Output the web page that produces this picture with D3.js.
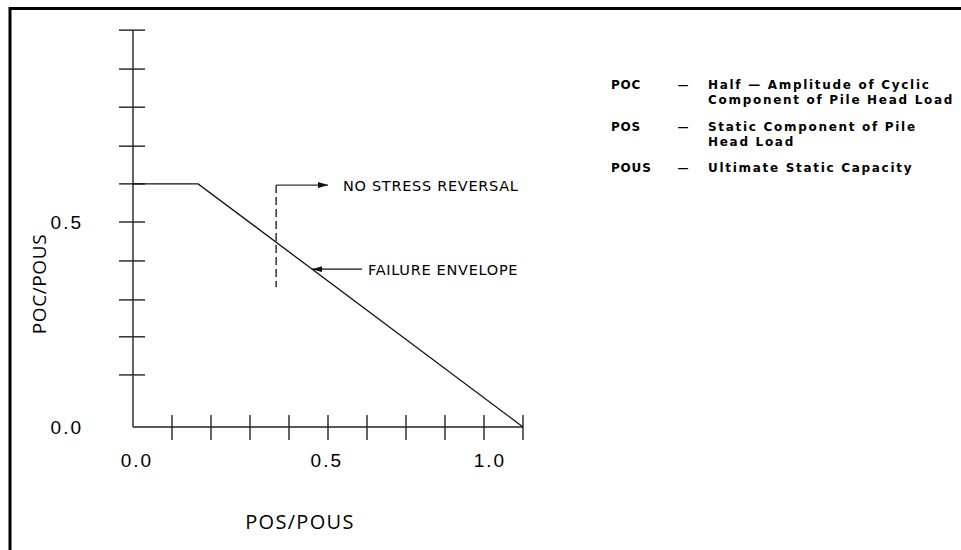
<!DOCTYPE html>
<html>
<head>
<meta charset="utf-8">
<script src="https://cdn.jsdelivr.net/npm/d3@7"></script>
<style>
  body { margin: 0; background: #fff; }
  svg { display: block; }
</style>
</head>
<body>
<svg id="chart" width="961" height="550"></svg>
<script>
// failure envelope (POS/POUS vs POC/POUS)
const posPous = [0, 0.167, 1.0]
const pocPous = [0.593, 0.593, 0]

// axis ticks as drawn on the scanned figure
const xTicks = [0.1, 0.2, 0.3, 0.4, 0.5, 0.6, 0.7, 0.8, 0.9, 1.0]
const yTicks = [0.127, 0.22, 0.31, 0.405, 0.5, 0.593, 0.685, 0.78, 0.873, 0.968]
const xTickLabels = ["0.0", "0.5", "1.0"]
const xTickLabelAt = [0.01, 0.497, 0.915]
const yTickLabels = ["0.0", "0.5"]
const yTickLabelAt = [0.0, 0.5]
const yAxisTop = 0.968

// annotations
const noReversalX = 0.367
const noReversalY = [0.59, 0.341]
const noReversalArrowTo = 0.5
const failureArrow = { x: 0.459, y: 0.385, from: 0.587 }

const legendKeys = ["POC", "POS", "POUS"]
const legendText = [
    ["Half \u2014 Amplitude of Cyclic", "Component of Pile Head Load"],
    ["Static Component of Pile", "Head Load"],
    ["Ultimate Static Capacity"]
]

const svg = d3.select("#chart")

// frame (only top and left edge show in the scan)
svg.append("path")
    .attr("d", "M10,550 L10,8.5 L961,8.5")
    .attr("fill", "none")
    .attr("stroke", "#000")
    .attr("stroke-width", 3)

const x = d3.scaleLinear().domain([0, 1]).range([133, 523])
const y = d3.scaleLinear().domain([0, 0.5]).range([427, 222])

const axisColor = "#222"

// y axis line + horizontal ticks
svg.append("line")
    .attr("x1", x(0)).attr("x2", x(0))
    .attr("y1", y(0)).attr("y2", y(yAxisTop))
    .attr("stroke", axisColor)
    .attr("stroke-width", 1.4)

svg.selectAll(".ytick")
    .data(yTicks)
    .enter()
    .append("line")
    .attr("class", "ytick")
    .attr("x1", x(0) - 14).attr("x2", x(0) + 12)
    .attr("y1", d => y(d)).attr("y2", d => y(d))
    .attr("stroke", axisColor)
    .attr("stroke-width", 1.4)

// x axis line + vertical ticks
svg.append("line")
    .attr("x1", x(0)).attr("x2", x(1))
    .attr("y1", y(0)).attr("y2", y(0))
    .attr("stroke", axisColor)
    .attr("stroke-width", 1.4)

svg.selectAll(".xtick")
    .data(xTicks)
    .enter()
    .append("line")
    .attr("class", "xtick")
    .attr("x1", d => x(d)).attr("x2", d => x(d))
    .attr("y1", y(0) - 12).attr("y2", y(0) + 13)
    .attr("stroke", axisColor)
    .attr("stroke-width", 1.4)

// tick labels
svg.selectAll(".xlab")
    .data(xTickLabels)
    .enter()
    .append("text")
    .attr("class", "xlab")
    .attr("x", (d, i) => x(xTickLabelAt[i]))
    .attr("y", y(0) + 40)
    .attr("text-anchor", "middle")
    .style("font-family", "'Liberation Sans', Arial, sans-serif")
    .style("font-size", "19px")
    .style("letter-spacing", "2px")
    .text(d => d)

svg.selectAll(".ylab")
    .data(yTickLabels)
    .enter()
    .append("text")
    .attr("class", "ylab")
    .attr("x", 83)
    .attr("y", (d, i) => y(yTickLabelAt[i]) + 7)
    .attr("text-anchor", "end")
    .style("font-family", "'Liberation Sans', Arial, sans-serif")
    .style("font-size", "19px")
    .style("letter-spacing", "2px")
    .text(d => d)

// axis titles
svg.append("text")
    .attr("transform", "translate(46,284) rotate(-90)")
    .attr("text-anchor", "middle")
    .style("font-family", "'Open Sans', 'Liberation Sans', sans-serif")
    .style("font-size", "19px")
    .style("letter-spacing", "0.6px")
    .text("POC/POUS")

svg.append("text")
    .attr("x", 300)
    .attr("y", 529)
    .attr("text-anchor", "middle")
    .style("font-family", "'Open Sans', 'Liberation Sans', sans-serif")
    .style("font-size", "20px")
    .style("letter-spacing", "1.3px")
    .text("POS/POUS")

// failure envelope
const line = d3.line()
    .x(d => x(d[0]))
    .y(d => y(d[1]))

svg.append("path")
    .datum(posPous.map((d, i) => [d, pocPous[i]]))
    .attr("d", line)
    .attr("fill", "none")
    .attr("stroke", "#111")
    .attr("stroke-width", 1.3)

// arrow heads
svg.append("defs").append("marker")
    .attr("id", "arrow")
    .attr("viewBox", "0 0 10 6")
    .attr("refX", 10).attr("refY", 3)
    .attr("markerWidth", 11).attr("markerHeight", 6)
    .attr("markerUnits", "userSpaceOnUse")
    .attr("orient", "auto")
    .append("path")
    .attr("d", "M0,0 L10,3 L0,6 Z")
    .attr("fill", "#111")

// no stress reversal: dashed marker + arrow
svg.append("line")
    .attr("x1", x(noReversalX)).attr("x2", x(noReversalX))
    .attr("y1", y(noReversalY[0])).attr("y2", y(noReversalY[1]))
    .attr("stroke", "#111")
    .attr("stroke-width", 1.3)
    .attr("stroke-dasharray", "8,4")

svg.append("line")
    .attr("x1", x(noReversalX)).attr("x2", x(noReversalArrowTo))
    .attr("y1", y(noReversalY[0])).attr("y2", y(noReversalY[0]))
    .attr("stroke", "#333")
    .attr("stroke-width", 1.1)
    .attr("marker-end", "url(#arrow)")

const noteFont = "'DejaVu Sans', sans-serif"

svg.append("text")
    .attr("x", 343)
    .attr("y", y(noReversalY[0]) + 6)
    .style("font-family", noteFont)
    .style("font-size", "14.5px")
    .style("letter-spacing", "0.7px")
    .text("NO STRESS REVERSAL")

// failure envelope arrow
svg.append("line")
    .attr("x1", x(failureArrow.from)).attr("x2", x(failureArrow.x))
    .attr("y1", y(failureArrow.y)).attr("y2", y(failureArrow.y))
    .attr("stroke", "#111")
    .attr("stroke-width", 1.1)
    .attr("marker-end", "url(#arrow)")

svg.append("text")
    .attr("x", 368)
    .attr("y", y(failureArrow.y) + 6)
    .style("font-family", noteFont)
    .style("font-size", "14.5px")
    .style("letter-spacing", "0.7px")
    .text("FAILURE ENVELOPE")

// legend
const legendFont = "'DejaVu Sans', sans-serif"
const legendRows = [89, 131, 172]

legendKeys.forEach((key, i) => {
    const g = svg.append("g").attr("transform", "translate(0," + legendRows[i] + ")")
    g.append("text")
        .attr("x", 611)
        .style("font-family", legendFont)
        .style("font-size", "12px")
        .style("font-weight", "bold")
        .style("letter-spacing", "0.8px")
        .text(key)
    g.append("text")
        .attr("x", 683)
        .attr("text-anchor", "middle")
        .style("font-family", legendFont)
        .style("font-size", "11px")
        .style("font-weight", "bold")
        .text("\u2014")
    legendText[i].forEach((t, j) => {
        g.append("text")
            .attr("x", 708)
            .attr("y", j * 15)
            .style("font-family", legendFont)
            .style("font-size", "12px")
            .style("font-weight", "bold")
            .style("letter-spacing", "1.7px")
            .text(t)
    })
})
</script>
</body>
</html>
